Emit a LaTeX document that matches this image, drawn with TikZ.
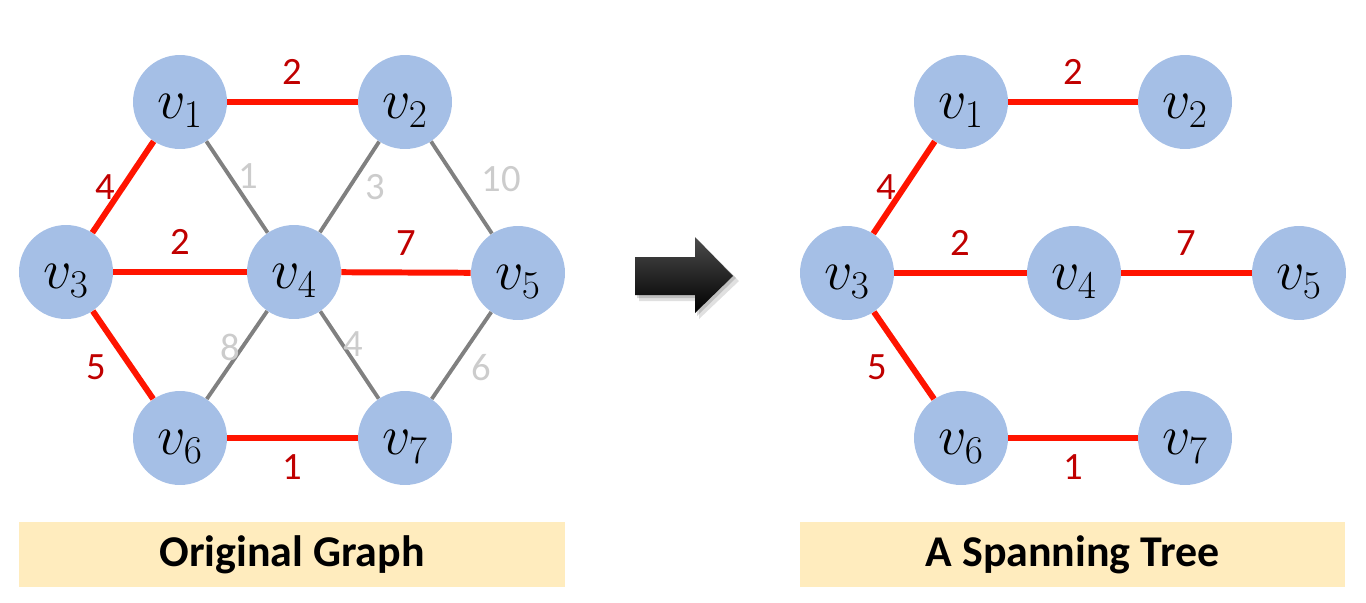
\RequirePackage{fix-cm}
\documentclass[tikz,border=0pt]{standalone}
\usepackage{fontspec}
\setmainfont{Carlito}
\usetikzlibrary{positioning}

\definecolor{vblue}{RGB}{165,191,230}
\definecolor{ered}{RGB}{255,20,0}
\definecolor{egray}{RGB}{128,128,128}
\definecolor{wred}{RGB}{192,0,0}
\definecolor{wgray}{RGB}{204,204,204}
\definecolor{cbox}{RGB}{255,236,190}

\begin{document}
\begin{tikzpicture}
            [x=0.02cm, y=-0.02cm,
            vertex/.style={circle, fill=vblue, minimum size=1.88cm, inner sep=0pt,
                text height=24pt, font=\fontsize{32}{38}\selectfont},
            tree/.style={draw=ered, line width=3.4pt},
            cut/.style={draw=egray, line width=2.2pt},
            wt/.style={text=wred, inner sep=0pt, font=\fontsize{22}{26}\selectfont},
            wtoff/.style={wt, text=wgray},
            caption/.style={rectangle, fill=cbox, minimum width=10.92cm,
                minimum height=1.3cm, font=\fontsize{25}{30}\selectfont\bfseries}]

            \useasboundingbox (0,0) rectangle (1366,602);

            % original graph
            \node[vertex] (v1) at (180,102) {$v_1$};
            \node[vertex] (v2) at (405,102) {$v_2$};
            \node[vertex] (v3) at (66,272) {$v_3$};
            \node[vertex] (v4) at (294,272) {$v_4$};
            \node[vertex] (v5) at (518,273) {$v_5$};
            \node[vertex] (v6) at (180,438) {$v_6$};
            \node[vertex] (v7) at (405,438) {$v_7$};

            \draw (v1) edge[cut] node[wtoff, pos=.38, right=4pt] {1} (v4);
            \draw (v4) edge[cut] node[wtoff, pos=.5, right=8pt] {3} (v2);
            \draw (v2) edge[cut] node[wtoff, pos=.41, right=13.5pt] {10} (v5);
            \draw (v4) edge[cut] node[wtoff, pos=.41, left=0pt] {8} (v6);
            \draw (v4) edge[cut] node[wtoff, pos=.37, right=0pt] {4} (v7);
            \draw (v5) edge[cut] node[wtoff, pos=.64, right=9.5pt] {6} (v7);

            \draw (v1) edge[tree] node[wt, above=8pt] {2} (v2);
            \draw (v3) edge[tree] node[wt, pos=.5, left=3pt] {4} (v1);
            \draw (v3) edge[tree] node[wt, above=8pt] {2} (v4);
            \draw (v4) edge[tree] node[wt, above=8pt] {7} (v5);
            \draw (v3) edge[tree] node[wt, pos=.64, left=13pt] {5} (v6);
            \draw (v6) edge[tree] node[wt, below=8pt] {1} (v7);

            % the arrow in between
            \fill[black, opacity=.12] (639,262) -- (699,262) -- (699,242) -- (739,281)
                -- (699,319) -- (699,301) -- (639,301) -- cycle;
            \fill[black, opacity=.15] (637,259) -- (697,259) -- (697,239) -- (736,278)
                -- (697,316) -- (697,298) -- (637,298) -- cycle;
            \shade[top color=black!70, middle color=black, bottom color=black]
                (635,257) -- (695,257) -- (695,237) -- (733,276)
                -- (695,313) -- (695,295) -- (635,295) -- cycle;

            % spanning tree
            \node[vertex] (s1) at (961,102) {$v_1$};
            \node[vertex] (s2) at (1185,102) {$v_2$};
            \node[vertex] (s3) at (847,273) {$v_3$};
            \node[vertex] (s4) at (1074,273) {$v_4$};
            \node[vertex] (s5) at (1299,273) {$v_5$};
            \node[vertex] (s6) at (961,438) {$v_6$};
            \node[vertex] (s7) at (1185,438) {$v_7$};

            \draw (s1) edge[tree] node[wt, above=8pt] {2} (s2);
            \draw (s3) edge[tree] node[wt, pos=.5, left=3pt] {4} (s1);
            \draw (s3) edge[tree] node[wt, above=8pt] {2} (s4);
            \draw (s4) edge[tree] node[wt, above=8pt] {7} (s5);
            \draw (s3) edge[tree] node[wt, pos=.64, left=13pt] {5} (s6);
            \draw (s6) edge[tree] node[wt, below=8pt] {1} (s7);

            % captions
            \node[caption] (orig) at (292,554.5) {Original Graph};
            \node[caption] (span) at (1072.5,554.5) {A Spanning Tree};
        \end{tikzpicture}
\end{document}
